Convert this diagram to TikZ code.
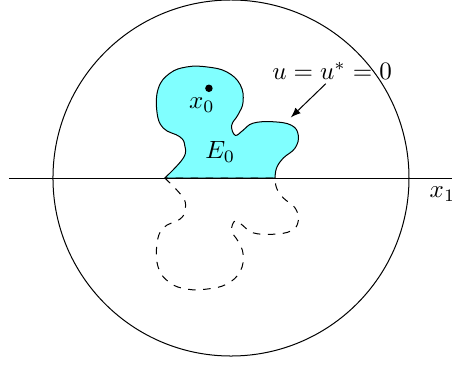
\documentclass[tikz,border=0pt]{standalone}
\usetikzlibrary{arrows}
\definecolor{blobcyan}{RGB}{128,255,255}
% boundary of E_0, cut by the x_1 axis
\newcommand{\blob}[1]{\draw[#1] plot[smooth, tension=0.7] coordinates {
  (-0.93,0) (-0.67,0.28) (-0.65,0.46) (-0.72,0.58) (-0.95,0.70) (-1.04,0.93)
  (-1.02,1.26) (-0.86,1.47) (-0.62,1.56) (-0.34,1.56) (-0.06,1.49) (0.13,1.31)
  (0.17,1.07) (0.10,0.89) (0.01,0.74) (0.06,0.60) (0.17,0.67) (0.31,0.77)
  (0.59,0.79) (0.85,0.74) (0.945,0.60) (0.90,0.42) (0.735,0.28) (0.64,0.14)
  (0.62,0)} -- cycle;}
\begin{document}
\begin{tikzpicture}[
  ball/.style={draw, circle, minimum size=5cm, inner sep=0pt},
  dot/.style={circle, fill, inner sep=0pt, minimum size=3pt},
  arrow/.style={-latex}
]
\useasboundingbox (-3.244,-2.626) rectangle (3.104,2.5);
\node[ball] (ball) at (0,0) {};

\blob{fill=blobcyan}
\blob{dashed, yscale=-1}

\coordinate (axL) at (-3.12,0);
\coordinate (axR) at (3.3,0);
\draw (axL) -- (axR);
\node[below] (xlab) at (2.97,0) {$x_1$};

\node[dot] (x0) at (-0.31,1.26) {};
\node (x0lab) at (-0.41,1.02) {$x_0$};
\node (E0) at (-0.15,0.37) {$E_0$};

\node (lbl) at (1.42,1.50) {$u=u^*=0$};
\coordinate (tip) at (0.84,0.85);
\draw[arrow] ([xshift=-2.5pt,yshift=2pt]lbl.south) -- (tip);
\end{tikzpicture}
\end{document}
